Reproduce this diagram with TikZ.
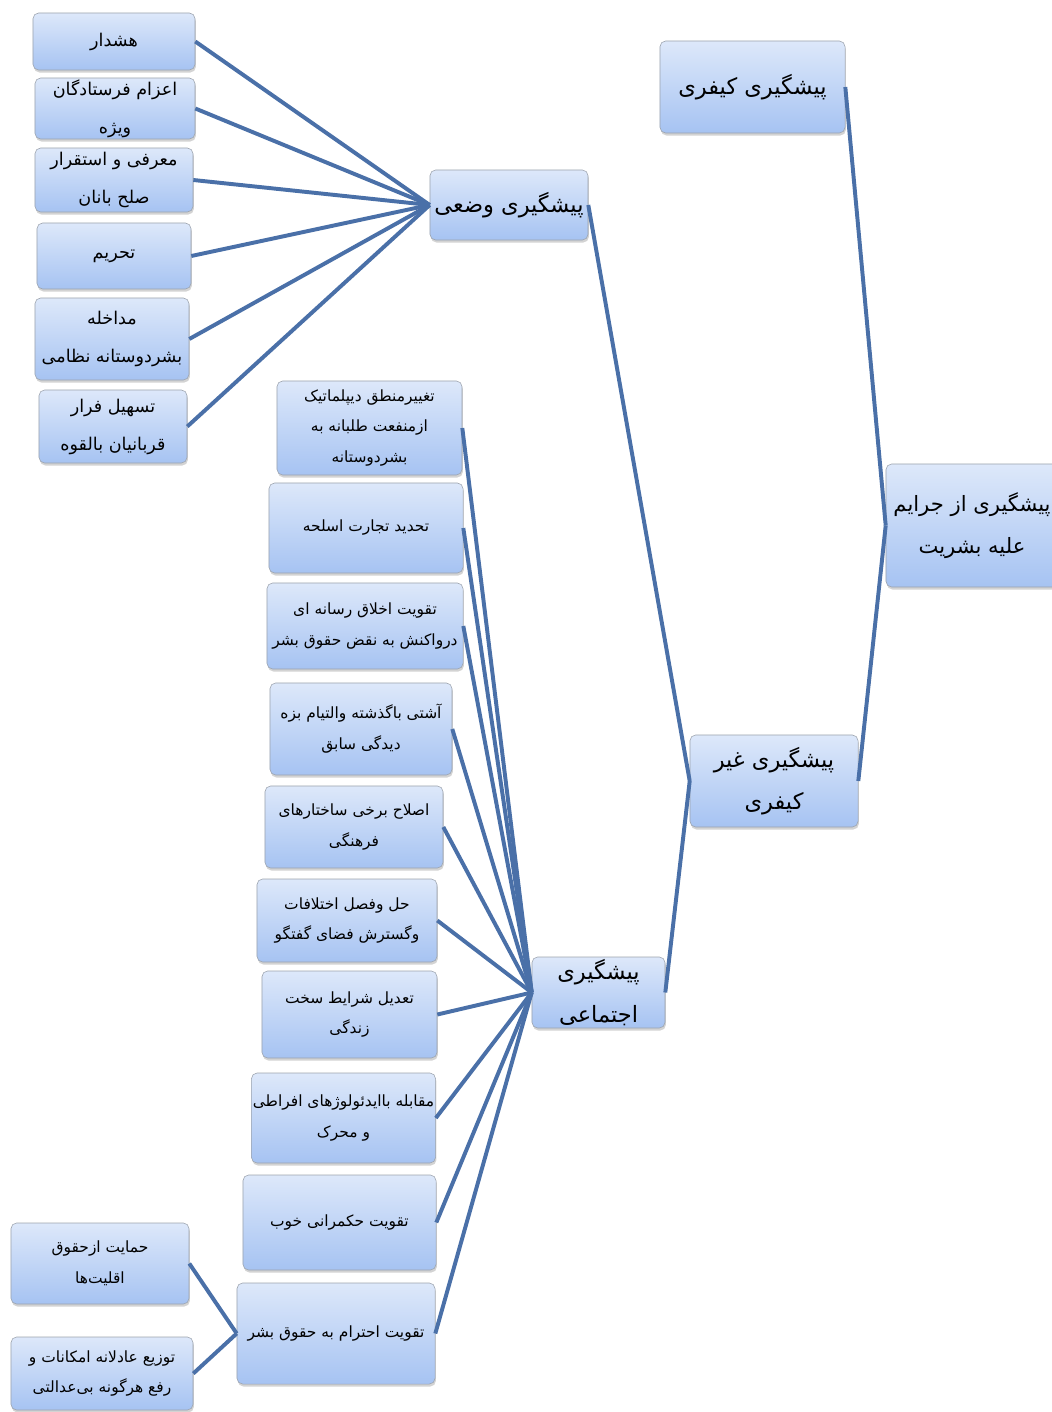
\documentclass[tikz,border=0pt]{standalone}
\usepackage{fontspec}
\newfontfamily\arabicfont[Script=Arabic]{DejaVu Sans}
\TeXXeTstate=1
\usetikzlibrary{shadows}
\definecolor{linkblue}{HTML}{4A70A8}
\definecolor{boxtop}{HTML}{DDE8FA}
\definecolor{boxbottom}{HTML}{A6C3F2}
\definecolor{boxrim}{HTML}{9CA3AD}
\newcommand{\fa}[1]{\beginR #1\endR}
\tikzset{
    box/.style={draw=boxrim,rounded corners=4pt,top color=boxtop,bottom color=boxbottom,
        drop shadow={shadow xshift=0.6pt,shadow yshift=-1.8pt,opacity=0.35},
        align=center,inner sep=1pt,font=\arabicfont\fontsize{11}{22}\selectfont},
    leftbox/.style={box,font=\arabicfont\fontsize{12.5}{27}\selectfont},
    mainbox/.style={box,font=\arabicfont\fontsize{16}{30}\selectfont},
    link/.style={draw=linkblue,line width=2.8pt},
}

\begin{document}
\begin{tikzpicture}[x=0.025cm,y=-0.025cm]
            \useasboundingbox (0,0) rectangle (1051,1412);

            \node[leftbox,minimum width=4.05cm,minimum height=1.425cm] (warn) at (114,41.5) {\fa{هشدار}};
            \node[leftbox,minimum width=4cm,minimum height=1.525cm] (envoy) at (115,108.5) {\fa{اعزام فرستادگان}\\\fa{ویژه}};
            \node[leftbox,minimum width=3.95cm,minimum height=1.6cm] (peace) at (114,180) {\fa{معرفی و استقرار}\\\fa{صلح بانان}};
            \node[leftbox,minimum width=3.85cm,minimum height=1.65cm] (embargo) at (114,256) {\fa{تحریم}};
            \node[leftbox,minimum width=3.85cm,minimum height=2.05cm] (interv) at (112,339) {\fa{مداخله}\\\fa{بشردوستانه نظامی}};
            \node[leftbox,minimum width=3.7cm,minimum height=1.825cm] (escape) at (113,426.5) {\fa{تسهیل فرار}\\\fa{قربانیان بالقوه}};

            \node[mainbox,minimum width=3.95cm,minimum height=1.75cm] (situ) at (509,205) {\fa{پیشگیری وضعی}};
            \node[mainbox,minimum width=4.625cm,minimum height=2.3cm] (penal) at (752.5,87) {\fa{پیشگیری کیفری}};
            \node[mainbox,font=\arabicfont\fontsize{15}{30}\selectfont,minimum width=4.3cm,minimum height=3.075cm] (root) at (972,525.5) {\fa{پیشگیری از جرایم}\\\fa{علیه بشریت}};
            \node[mainbox,minimum width=4.2cm,minimum height=2.3cm] (nonpenal) at (774,781) {\fa{پیشگیری غیر}\\\fa{کیفری}};
            \node[mainbox,minimum width=3.325cm,minimum height=1.775cm] (social) at (598.5,992.5) {\fa{پیشگیری}\\\fa{اجتماعی}};

            \node[box,minimum width=4.625cm,minimum height=2.35cm] (diplo) at (369.5,428) {\fa{تغییرمنطق دیپلماتیک}\\\fa{ازمنفعت طلبانه به}\\\fa{بشردوستانه}};
            \node[box,minimum width=4.85cm,minimum height=2.25cm] (arms) at (366,528) {\fa{تحدید تجارت اسلحه}};
            \node[box,minimum width=4.9cm,minimum height=2.15cm] (media) at (365,626) {\fa{تقویت اخلاق رسانه ای}\\\fa{درواکنش به نقض حقوق بشر}};
            \node[box,minimum width=4.55cm,minimum height=2.3cm] (recon) at (361,729) {\fa{آشتی باگذشته والتیام بزه}\\\fa{دیدگی سابق}};
            \node[box,minimum width=4.45cm,minimum height=2.05cm] (culture) at (354,827) {\fa{اصلاح برخی ساختارهای}\\\fa{فرهنگی}};
            \node[box,minimum width=4.5cm,minimum height=2.075cm] (dispute) at (347,920.5) {\fa{حل وفصل اختلافات}\\\fa{وگسترش فضای گفتگو}};
            \node[box,minimum width=4.375cm,minimum height=2.175cm] (living) at (349.5,1014.5) {\fa{تعدیل شرایط سخت}\\\fa{زندگی}};
            \node[box,minimum width=4.525cm,minimum height=2.25cm] (ideology) at (343.5,1118) {\fa{مقابله باایدئولوژهای افراطی}\\\fa{و محرک}};
            \node[box,minimum width=4.825cm,minimum height=2.375cm] (govern) at (339.5,1222.5) {\fa{تقویت حکمرانی خوب}};
            \node[box,minimum width=4.95cm,minimum height=2.525cm] (rights) at (336,1333.5) {\fa{تقویت احترام به حقوق بشر}};

            \node[box,minimum width=4.45cm,minimum height=2.025cm] (minority) at (100,1263.5) {\fa{حمایت ازحقوق}\\\fa{اقلیت‌ها}};
            \node[box,minimum width=4.55cm,minimum height=1.825cm] (justice) at (102,1373.5) {\fa{توزیع عادلانه امکانات و}\\\fa{رفع هرگونه بی‌عدالتی}};

            \foreach \n in {warn,envoy,peace,embargo,interv,escape}
                \draw[link] (\n.east) -- (situ.west);
            \foreach \n in {diplo,arms,media,recon,culture,dispute,living,ideology,govern,rights}
                \draw[link] (\n.east) -- (social.west);
            \draw[link] (minority.east) -- (rights.west);
            \draw[link] (justice.east) -- (rights.west);
            \draw[link] (situ.east) -- (nonpenal.west);
            \draw[link] (social.east) -- (nonpenal.west);
            \draw[link] (penal.east) -- (root.west);
            \draw[link] (nonpenal.east) -- (root.west);
\end{tikzpicture}
\end{document}
